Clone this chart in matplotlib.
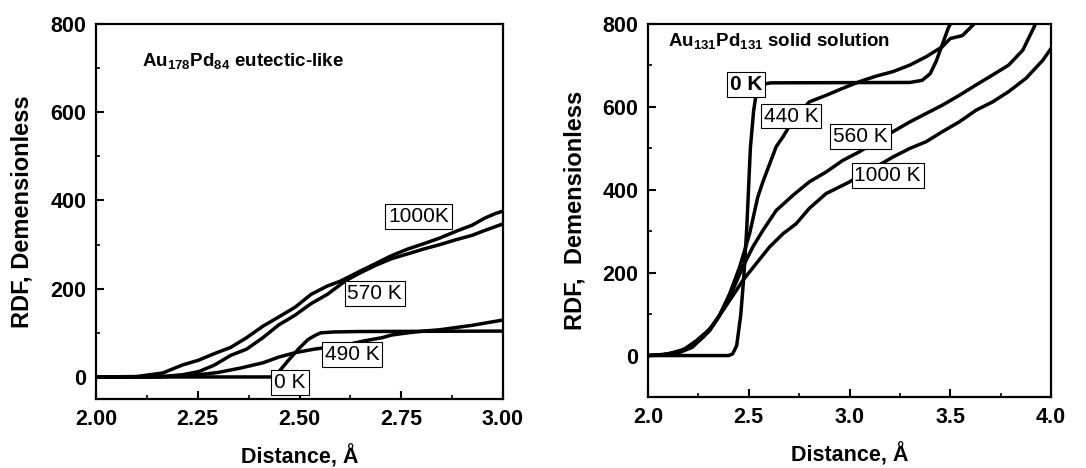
import matplotlib
matplotlib.use("Agg")
import matplotlib.pyplot as plt
from matplotlib.ticker import MultipleLocator

plt.rcParams['font.family'] = ['Liberation Sans', 'DejaVu Sans']
plt.rcParams['mathtext.fontset'] = 'custom'
plt.rcParams['mathtext.bf'] = 'Liberation Sans:bold'
plt.rcParams['mathtext.rm'] = 'Liberation Sans'

# ---------------- Left panel data (Au178Pd84 eutectic-like) ----------------
l_0K_x = [2.00, 2.44, 2.453, 2.473, 2.497, 2.521, 2.540, 2.552, 2.584, 2.647, 3.00]
l_0K_y = [0, 0, 16, 38, 63, 85, 95, 100, 102, 103, 104]

l_490K_x = [2.00, 2.12, 2.172, 2.252, 2.299, 2.354, 2.41, 2.449, 2.489, 2.536, 2.568, 2.62,
            2.66, 2.703, 2.726, 2.766, 2.805, 2.845, 2.884, 2.924, 2.955, 3.00]
l_490K_y = [0, 0, 1, 5, 10, 20, 32, 45, 55, 63, 67, 74,
            82, 89, 95, 100, 104, 107, 112, 117, 122, 129]

l_570K_x = [2.00, 2.15, 2.212, 2.252, 2.291, 2.331, 2.37, 2.41, 2.449, 2.489, 2.528, 2.568, 2.60,
            2.615, 2.647, 2.687, 2.726, 2.766, 2.805, 2.845, 2.884, 2.924, 2.955, 3.00]
l_570K_y = [0, 0, 5, 12, 27, 49, 63, 89, 118, 140, 166, 187, 209,
            219, 235, 253, 268, 279, 290, 300, 311, 321, 332, 347]

l_1000K_x = [2.00, 2.10, 2.164, 2.212, 2.252, 2.291, 2.331, 2.37, 2.41, 2.449, 2.489, 2.528, 2.568,
             2.60, 2.647, 2.687, 2.726, 2.766, 2.805, 2.845, 2.884, 2.924, 2.955, 2.98, 3.00]
l_1000K_y = [0, 1, 9, 27, 38, 53, 67, 89, 115, 136, 158, 187, 206,
             217, 239, 257, 275, 290, 302, 315, 330, 344, 360, 370, 376]

# ---------------- Right panel data (Au131Pd131 solid solution) ----------------
r_0K_x = [2.00, 2.40, 2.42, 2.44, 2.46, 2.476, 2.49, 2.508, 2.524, 2.54, 2.572, 2.61,
          3.30, 3.36, 3.40, 3.43, 3.46, 3.49, 3.53]
r_0K_y = [0, 0, 4, 24, 97, 194, 307, 501, 590, 643, 655, 658,
          659, 664, 680, 710, 750, 790, 830]

r_440K_x = [2.00, 2.074, 2.17, 2.24, 2.306, 2.355, 2.405, 2.455, 2.504, 2.545, 2.57, 2.636, 2.67,
            2.70, 2.75, 2.80, 2.884, 2.967, 3.05, 3.13, 3.215, 3.30, 3.38, 3.46, 3.50, 3.56, 3.628]
r_440K_y = [0, 2, 12, 36, 64, 97, 149, 214, 294, 383, 419, 504, 528,
            552, 584, 612, 628, 645, 661, 674, 685, 701, 721, 745, 765, 772, 805]

r_560K_x = [2.00, 2.107, 2.207, 2.273, 2.34, 2.405, 2.47, 2.52, 2.57, 2.636, 2.72, 2.80, 2.884,
            2.967, 3.05, 3.13, 3.215, 3.30, 3.38, 3.46, 3.545, 3.628, 3.71, 3.79, 3.86, 3.917, 3.93]
r_560K_y = [0, 4, 20, 44, 85, 141, 213, 262, 302, 350, 387, 419, 443,
            471, 492, 516, 540, 564, 584, 604, 628, 653, 677, 701, 737, 794, 810]

r_1000K_x = [2.00, 2.14, 2.22, 2.306, 2.372, 2.438, 2.47, 2.537, 2.603, 2.67, 2.735, 2.80, 2.884,
             2.934, 3.00, 3.066, 3.13, 3.215, 3.30, 3.38, 3.46, 3.545, 3.628, 3.71, 3.79, 3.876,
             3.96, 4.00]
r_1000K_y = [0, 4, 20, 60, 109, 157, 181, 222, 262, 294, 318, 355, 391,
             403, 419, 439, 455, 479, 500, 516, 540, 564, 592, 612, 637, 669,
             713, 741]

left_series = [(l_0K_x, l_0K_y), (l_490K_x, l_490K_y), (l_570K_x, l_570K_y), (l_1000K_x, l_1000K_y)]
right_series = [(r_0K_x, r_0K_y), (r_440K_x, r_440K_y), (r_560K_x, r_560K_y), (r_1000K_x, r_1000K_y)]

left_labels = ["0 K", "490 K", "570 K", "1000K"]
left_label_pos = [(2.477, -12), (2.629, 51), (2.685, 190), (2.793, 363)]
right_labels = ["0 K", "440 K", "560 K", "1000 K"]
right_label_pos = [(2.485, 655), (2.71, 578), (3.055, 528), (3.19, 435)]
right_label_bold = [True, False, False, False]

fig = plt.figure(figsize=(10.86, 4.68), dpi=100)
axL = fig.add_axes([0.0884, 0.1474, 0.3748, 0.8013])
axR = fig.add_axes([0.5967, 0.1517, 0.3711, 0.7970])

def style(ax, xlim, ylim, xmaj, xmin, xfmt):
    ax.set_xlim(*xlim)
    ax.set_ylim(*ylim)
    ax.xaxis.set_major_locator(MultipleLocator(xmaj))
    ax.xaxis.set_minor_locator(MultipleLocator(xmin))
    ax.yaxis.set_major_locator(MultipleLocator(200))
    ax.yaxis.set_minor_locator(MultipleLocator(100))
    ax.xaxis.set_major_formatter(plt.FormatStrFormatter(xfmt))
    ax.tick_params(which='major', direction='in', length=6, width=1.5, pad=7)
    ax.tick_params(which='minor', direction='in', length=3, width=1.2)
    for lab in ax.get_xticklabels() + ax.get_yticklabels():
        lab.set_fontsize(15.5)
        lab.set_fontweight('bold')
    for s in ax.spines.values():
        s.set_linewidth(1.6)

style(axL, (2.0, 3.0), (-50, 800), 0.25, 0.125, '%.2f')
style(axR, (2.0, 4.0), (-100, 800), 0.5, 0.25, '%.1f')

for x, y in left_series:
    axL.plot(x, y, color='black', lw=2.5, solid_joinstyle='round')
for x, y in right_series:
    axR.plot(x, y, color='black', lw=2.5, solid_joinstyle='round')

box = dict(boxstyle='square,pad=0.14', fc='white', ec='black', lw=0.8)
for t, (x, y) in zip(left_labels, left_label_pos):
    axL.text(x, y, t, fontsize=15, ha='center', va='center', bbox=box, zorder=5)
for t, (x, y), b in zip(right_labels, right_label_pos, right_label_bold):
    axR.text(x, y, t, fontsize=15, ha='center', va='center', bbox=box, zorder=5,
             fontweight='bold' if b else 'normal')

axL.text(2.112, 714, r"Au$_{\mathbf{178}}$Pd$_{\mathbf{84}}$ eutectic-like", fontsize=13.5,
         fontweight='bold', ha='left', va='center')
axR.text(2.10, 757, r"Au$_{\mathbf{131}}$Pd$_{\mathbf{131}}$ solid solution", fontsize=13.5,
         fontweight='bold', ha='left', va='center')

axL.set_ylabel("RDF, Demensionless", fontsize=17, fontweight='bold', va='center')
axR.set_ylabel("RDF,  Demensionless", fontsize=17, fontweight='bold', va='center')
axL.set_xlabel("Distance, Å", fontsize=15.5, fontweight='bold', va='center')
axR.set_xlabel("Distance, Å", fontsize=15.5, fontweight='bold', va='center')
axL.yaxis.set_label_coords(-0.182, 0.5)
axR.yaxis.set_label_coords(-0.181, 0.5)
axL.xaxis.set_label_coords(0.5, -0.155)
axR.xaxis.set_label_coords(0.5, -0.155)

fig.savefig("out.png", dpi=100)
